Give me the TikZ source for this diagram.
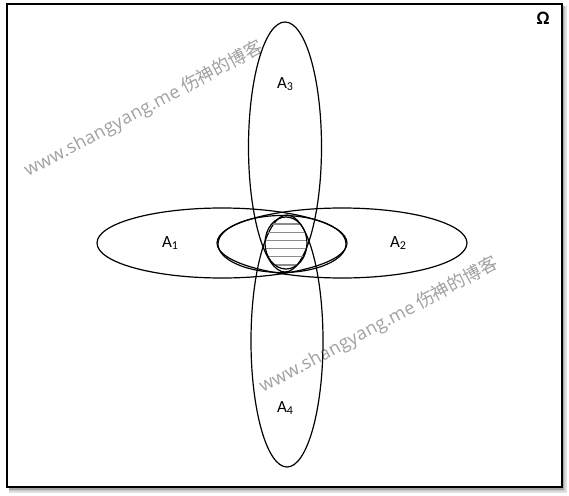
\documentclass[tikz,border=0pt]{standalone}
\usepackage{fontspec}
\setmainfont{Carlito}
\newfontfamily\cjk{Noto Sans CJK SC}
\newfontfamily\wmlatin[LetterSpace=2]{Open Sans}
\newcommand{\setsub}[1]{{\fontsize{12}{12}\selectfont\raisebox{-2.5pt}{#1}}}
\begin{document}
\begin{tikzpicture}[x=1pt,y=-1pt,
  setline/.style={line width=1.2pt},
  lab/.style={font=\fontsize{17}{17}\selectfont, inner sep=0pt},
  wmark/.style={rotate=28, anchor=base west, text=black!37, inner sep=0pt,
    font=\fontsize{18}{18}\selectfont},
  hatchline/.style={draw=black!45, line width=1.1pt}]
\useasboundingbox (0,0) rectangle (569,495);
% shadow and frame
\fill[black!12] (9,6) rectangle (567,493);
\fill[black!22] (9,6) rectangle (565,491);
\fill[black!35] (9,6) rectangle (564,489.5);
\draw[line width=2pt, fill=white] (7,4) rectangle (562,487);
\node[font=\bfseries\fontsize{19}{19}\selectfont, inner sep=0pt] (omega) at (543,18) {Ω};
% watermarks
\node[wmark] (wm1) at (28,177) {{\wmlatin www.shangyang.me} {\cjk 伤神的博客}};
\node[wmark] (wm2) at (263,393) {{\wmlatin www.shangyang.me} {\cjk 伤神的博客}};
% sets
\draw[setline] (222,243) ellipse [x radius=125pt, y radius=35pt];
\draw[setline] (342,243) ellipse [x radius=125pt, y radius=35pt];
\draw[setline] (285,147) ellipse [x radius=36.5pt, y radius=125pt];
\draw[setline] (287,341) ellipse [x radius=36pt, y radius=126pt];
\draw[setline] (282,244) ellipse [x radius=64pt, y radius=28.5pt];
% hatched intersection
\begin{scope}
  \clip (286,243) ellipse [x radius=21pt, y radius=26pt];
  \foreach \yy in {224,232.2,...,266} \draw[hatchline] (255,\yy) -- (320,\yy);
\end{scope}
\draw[setline] (286,243) ellipse [x radius=21pt, y radius=26pt];
% labels
\node[lab] (a1) at (170,243) {A\setsub{1}};
\node[lab] (a2) at (398,243) {A\setsub{2}};
\node[lab] (a3) at (285,84) {A\setsub{3}};
\node[lab] (a4) at (285,408) {A\setsub{4}};
\end{tikzpicture}
\end{document}
